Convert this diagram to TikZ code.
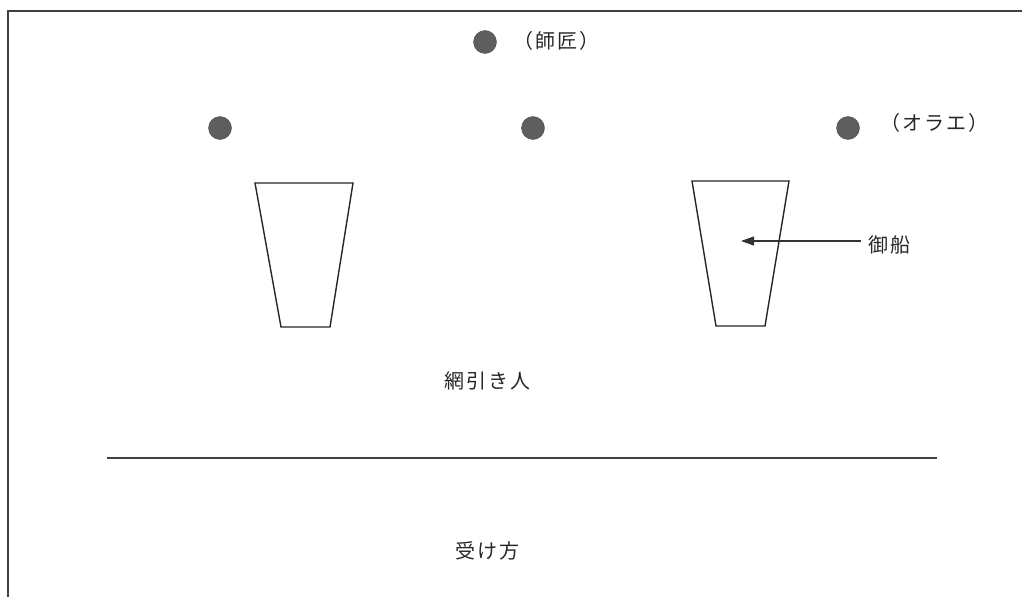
\documentclass[tikz,border=0pt]{standalone}
\usepackage{fontspec}
\newfontfamily\jp[LetterSpace=10]{Noto Sans CJK JP}
\usetikzlibrary{arrows.meta}
\definecolor{dotgray}{HTML}{5E5E5E}
\tikzset{
  person/.style={circle, fill=dotgray, draw=dotgray!80!black, line width=0.4pt, minimum size=23pt, inner sep=0pt},
  label/.style={font=\jp\fontsize{20}{22}\selectfont, text=black!85, inner sep=0pt},
  boat/.style={draw=black!85, line width=1.4pt, line join=miter, fill=white},
  rule/.style={draw=black!75, line width=1.1pt},
}
\begin{document}
\begin{tikzpicture}[x=1pt,y=-1pt]
\useasboundingbox (0,0) rectangle (1022,597);
% frame (left and top only)
\coordinate (fbl) at (8,597);
\coordinate (ftl) at (8,11);
\coordinate (ftr) at (1022,11);
\draw[rule] (fbl) -- (ftl) -- (ftr);

% persons
\node[person] (shisho) at (485,42) {};
\node[person] (p1) at (220,128) {};
\node[person] (p2) at (533,128) {};
\node[person] (orae) at (848,128) {};
\node[label, anchor=west] (tshisho) at (513,41) {（師匠）};
\node[label, anchor=west] (torae) at (880,123) {（オラエ）};

% boats
\draw[boat] (255,183) coordinate (b1a) -- (353,183) coordinate (b1b) -- (330,327) coordinate (b1c) -- (281,327) coordinate (b1d) -- cycle;
\draw[boat] (692,181) coordinate (b2a) -- (789,181) coordinate (b2b) -- (765,326) coordinate (b2c) -- (716,326) coordinate (b2d) -- cycle;
\coordinate (b2in) at (741,241);

% label for boat
\node[label, anchor=west] (tfune) at (868,245) {御船};
\coordinate (arrstart) at (861,241);
\draw[line width=1.1pt, black!80, -{Triangle[length=13pt,width=9pt]}] (arrstart) -- (b2in);

% pullers
\node[label] (tami) at (487,381) {網引き人};

% dividing line
\coordinate (la) at (107,458);
\coordinate (lb) at (937,458);
\draw[rule, line width=1.2pt] (la) -- (lb);

% receivers
\node[label] (tuke) at (487,551) {受け方};
\end{tikzpicture}
\end{document}
